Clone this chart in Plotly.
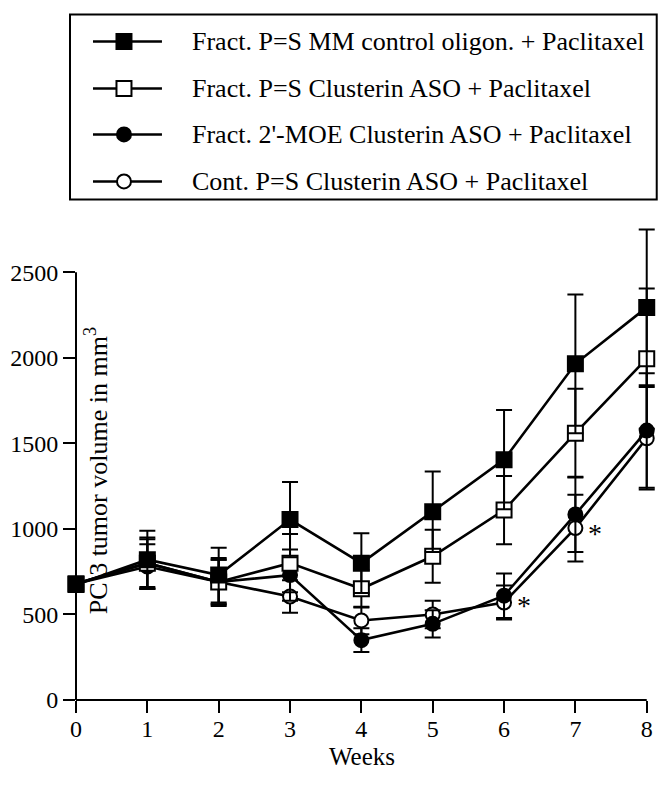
import plotly.graph_objects as go

weeks = [0, 1, 2, 3, 4, 5, 6, 7, 8]
y_ticks = [0, 500, 1000, 1500, 2000, 2500]

names = [
    "Fract. P=S MM control oligon. + Paclitaxel",
    "Fract. P=S Clusterin ASO + Paclitaxel",
    "Fract. 2'-MOE Clusterin ASO + Paclitaxel",
    "Cont. P=S Clusterin ASO + Paclitaxel",
]

mm_control = [675, 820, 730, 1055, 800, 1100, 1405, 1965, 2295]
mm_control_err = [0, 170, 160, 220, 175, 235, 290, 405, 455]

ps_aso = [680, 800, 690, 800, 650, 840, 1110, 1560, 1995]
ps_aso_err = [0, 150, 130, 170, 110, 155, 200, 260, 410]

moe_aso = [680, 780, 690, 730, 350, 445, 610, 1085, 1575]
moe_aso_err = [0, 130, 140, 150, 70, 80, 130, 220, 335]

cont_aso = [680, 800, 690, 605, 465, 500, 570, 1005, 1530]
cont_aso_err = [0, 140, 130, 95, 80, 80, 100, 195, 300]

series = [mm_control, ps_aso, moe_aso, cont_aso]
errors = [mm_control_err, ps_aso_err, moe_aso_err, cont_aso_err]
shapes_kind = ["square", "square", "circle", "circle"]
filled = [True, False, True, False]

star_weeks = [6, 7, 8]
star_values = [590, 1010, 1515]

FONT = "Liberation Serif"
# page body has an 8px margin: the figure is drawn 8px right/down of the window corner
OFF = 8
W, H = 671 - OFF, 786 - OFF
X0_REF, Y0_REF = 76, 700          # reference pixel position of (0, 0)
L = X0_REF - OFF
B = H - (Y0_REF - OFF)
X_MAX, Y_MAX = 8.2, 2800
PX_PER_WEEK = 571 / 8
PX_PER_UNIT = 428 / 2500
plot_w = X_MAX * PX_PER_WEEK
plot_h = Y_MAX * PX_PER_UNIT
R = W - L - plot_w
T = H - B - plot_h


def px(x):
    return (x - X0_REF) / plot_w


def py(y):
    return (Y0_REF - y) / plot_h


fig = go.Figure()
order = [3, 2, 1, 0]
for i in order:
    fig.add_trace(go.Scatter(
        x=weeks, y=series[i], name=names[i], mode="lines+markers",
        showlegend=False,
        line=dict(color="black", width=2.6),
        marker=dict(symbol=shapes_kind[i], size=15 if shapes_kind[i] == "square" else 14,
                    color="black" if filled[i] else "white",
                    line=dict(color="black", width=2)),
        error_y=dict(type="data", array=errors[i], visible=True, color="black",
                     thickness=2, width=8),
        cliponaxis=False,
    ))

shapes = []
annotations = []

# axis lines (y axis stops at top tick, x axis stops at last week)
shapes.append(dict(type="line", xref="paper", yref="paper", x0=0, x1=0,
                   y0=0, y1=y_ticks[-1] / Y_MAX, line=dict(color="black", width=2)))
shapes.append(dict(type="line", xref="paper", yref="paper", x0=0, x1=weeks[-1] / X_MAX,
                   y0=0, y1=0, line=dict(color="black", width=2)))

# manual legend
box_l, box_r, box_t, box_b = 70, 657, 14, 199
shapes.append(dict(type="rect", xref="paper", yref="paper", x0=px(box_l), x1=px(box_r),
                   y0=py(box_b), y1=py(box_t), line=dict(color="black", width=2),
                   fillcolor="white", layer="below"))
row_y = [41, 88, 134, 181]
line_x0, line_x1, mark_x = 93, 162, 124
for i, ry in enumerate(row_y):
    shapes.append(dict(type="line", xref="paper", yref="paper", x0=px(line_x0), x1=px(line_x1),
                       y0=py(ry), y1=py(ry), line=dict(color="black", width=2.5)))
    half = 7.5 if shapes_kind[i] == "square" else 7
    shapes.append(dict(type="rect" if shapes_kind[i] == "square" else "circle",
                       xref="paper", yref="paper",
                       x0=px(mark_x - half), x1=px(mark_x + half),
                       y0=py(ry + half), y1=py(ry - half),
                       fillcolor="black" if filled[i] else "white",
                       line=dict(color="black", width=2)))
    annotations.append(dict(xref="paper", yref="paper", x=px(190), y=py(ry),
                            xanchor="left", yanchor="middle", text=names[i],
                            showarrow=False, font=dict(family=FONT, size=26, color="black")))

for w, v in zip(star_weeks, star_values):
    annotations.append(dict(x=w + 0.28, y=v, text="*", showarrow=False, yshift=-6,
                            xanchor="center", yanchor="middle",
                            font=dict(family=FONT, size=28, color="black")))

annotations.append(dict(xref="paper", yref="paper", x=px(96), y=py(470),
                        xanchor="center", yanchor="middle",
                        text="PC 3 tumor volume in mm<sup>3</sup>", textangle=-90,
                        showarrow=False, font=dict(family=FONT, size=26, color="black")))
annotations.append(dict(xref="paper", yref="paper", x=px(362), y=py(757),
                        xanchor="center", yanchor="middle",
                        text="Weeks", showarrow=False,
                        font=dict(family=FONT, size=25, color="black")))

fig.update_layout(
    width=W, height=H,
    margin=dict(l=L, r=R, t=T, b=B, autoexpand=False),
    plot_bgcolor="rgba(0,0,0,0)", paper_bgcolor="white",
    font=dict(family=FONT, size=24, color="black"),
    showlegend=False,
    shapes=shapes,
    annotations=annotations,
    xaxis=dict(
        range=[0, X_MAX], tickmode="array", tickvals=weeks, ticktext=[str(w) for w in weeks],
        showline=False, ticks="outside", ticklen=12, tickwidth=2, tickcolor="black",
        ticklabelstandoff=-5,
        showgrid=False, zeroline=False, tickfont=dict(family=FONT, size=24),
    ),
    yaxis=dict(
        range=[0, Y_MAX], tickmode="array", tickvals=y_ticks,
        showline=False, ticks="outside", ticklen=12, tickwidth=2, tickcolor="black",
        showgrid=False, zeroline=False, tickfont=dict(family=FONT, size=24),
    ),
)

fig.write_html("out.html")
